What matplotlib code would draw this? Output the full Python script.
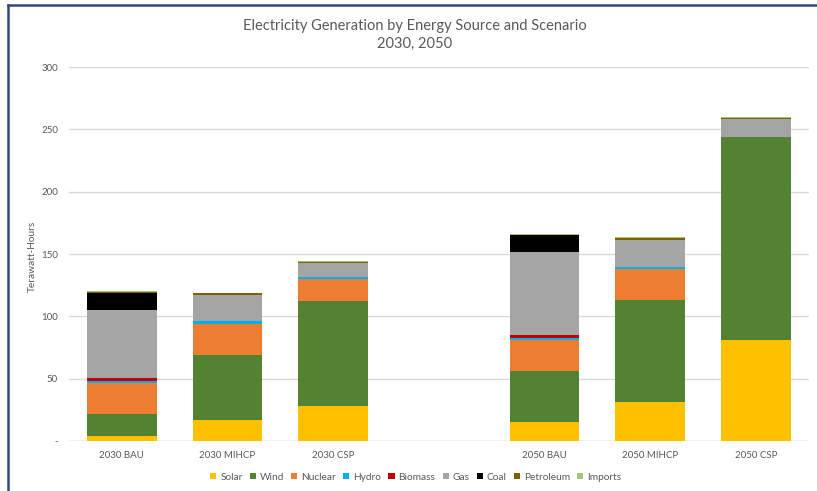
import matplotlib
matplotlib.use("Agg")
import matplotlib.pyplot as plt
from matplotlib.lines import Line2D
import numpy as np

plt.rcParams['font.family'] = ['Lato', 'DejaVu Sans']

# scenarios (gap between 2030 and 2050 groups)
scenarios = ['2030 BAU', '2030 MIHCP', '2030 CSP', '2050 BAU', '2050 MIHCP', '2050 CSP']
xpos = [0, 1, 2, 4, 5, 6]

sources = ['Solar', 'Wind', 'Nuclear', 'Hydro', 'Biomass', 'Gas', 'Coal', 'Petroleum', 'Imports']
colors = ['#FFC000', '#548235', '#ED7D31', '#00B0F0', '#C00000', '#A5A5A5', '#000000', '#7F6000', '#9DC878']

# terawatt-hours per source, one value per scenario
solar = [4.0, 16.8, 28.1, 15.2, 31.3, 81.0]
wind = [17.4, 52.2, 84.2, 40.9, 82.1, 162.8]
nuclear = [24.9, 25.1, 17.7, 24.9, 24.6, 0.0]
hydro = [1.8, 1.9, 1.5, 1.6, 1.6, 0.0]
biomass = [2.7, 0.0, 0.0, 2.4, 0.0, 0.0]
gas = [54.0, 21.1, 11.3, 66.3, 21.9, 14.2]
coal = [13.7, 0.0, 0.0, 13.7, 0.0, 0.0]
petroleum = [1.0, 1.4, 1.0, 0.5, 1.6, 1.1]
imports = [1.1, 0.5, 0.6, 0.8, 0.5, 0.5]

series = [solar, wind, nuclear, hydro, biomass, gas, coal, petroleum, imports]

fig = plt.figure(figsize=(8.17, 4.91), dpi=100)
ax = fig.add_axes([0.0845, 0.1018, 0.9055, 0.7617])

bottom = np.zeros(len(scenarios))
for name, vals, c in zip(sources, series, colors):
    ax.bar(xpos, vals, width=0.66, bottom=bottom, color=c, label=name, zorder=3)
    bottom += np.array(vals)

ax.set_xlim(-0.5, 6.5)
ax.set_ylim(0, 300)
ax.set_yticks(range(0, 301, 50))
ax.set_yticklabels(['-'] + [str(v) for v in range(50, 301, 50)])
ax.set_xticks(xpos)
ax.set_xticklabels(scenarios)
ax.tick_params(length=0, labelsize=7, colors='#595959', pad=8)
ax.tick_params(axis='x', pad=7)
ax.grid(axis='y', color='#D9D9D9', linewidth=1, zorder=0)
for s in ax.spines.values():
    s.set_visible(False)
ax.axhline(0, color='#D9D9D9', linewidth=1, zorder=1)

ax.set_ylabel('Terawatt-Hours', fontsize=7.3, color='#595959')
ax.yaxis.set_label_coords(-0.044, 0.495)

fig.text(0.508, 0.929, 'Electricity Generation by Energy Source and Scenario\n2030, 2050',
         ha='center', va='center', fontsize=10.5, color='#595959', linespacing=1.3)

ax.legend(loc='center', bbox_to_anchor=(0.509, 0.0285), bbox_transform=fig.transFigure,
          ncol=9, frameon=False, fontsize=7.3, labelcolor='#595959',
          handlelength=0.6, handleheight=0.6, handletextpad=0.4, columnspacing=0.7)

# chart frame on the left and top
fig.add_artist(Line2D([0.0098, 0.0098], [0, 0.99], transform=fig.transFigure, color='#2E4A7A', linewidth=1.8))
fig.add_artist(Line2D([0.0098, 1.0], [0.99, 0.99], transform=fig.transFigure, color='#2E4A7A', linewidth=1.8))

fig.savefig('out.png', dpi=100)
